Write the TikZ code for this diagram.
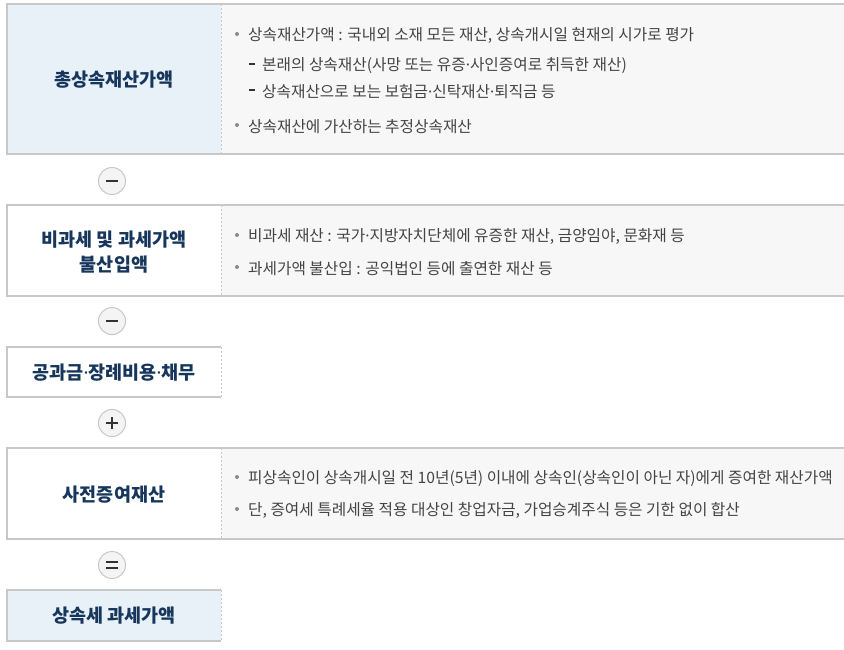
\documentclass[tikz,border=0pt]{standalone}
\usepackage{fontspec}
\setmainfont{Noto Sans CJK KR}
\newfontfamily\latf{Noto Sans}
\newcommand{\md}{{\latf ·}}
\definecolor{bluefill}{HTML}{E8F0F8}
\definecolor{grayfill}{HTML}{F7F7F7}
\definecolor{bordc}{HTML}{C8C8C8}
\definecolor{titlec}{HTML}{17365C}
\definecolor{bodyc}{HTML}{444444}
\definecolor{bulc}{HTML}{8A8A8A}
\definecolor{opfill}{HTML}{F4F4F4}
\definecolor{symc}{HTML}{333333}
\tikzset{
  bord/.style={draw=bordc, line width=1.2pt},
  divd/.style={draw=bordc, line width=0.8pt, dash pattern=on 2pt off 2pt},
  title/.style={inner sep=0pt, yshift=-1pt, text=titlec, font=\fontsize{18.5}{25}\selectfont\bfseries, align=center},
  body/.style={inner sep=0pt, anchor=west, yshift=-1.5pt, text=bodyc, font=\fontsize{15.7}{18}\selectfont},
  opc/.style={circle, draw=bordc, fill=opfill, line width=1pt, minimum size=27pt, inner sep=0pt},
  sym/.style={draw=symc, line width=2.2pt},
  dashmark/.style={draw=symc, line width=1.6pt}
}
\newcommand{\bul}[1]{\fill[bulc] (237,#1) circle (2pt);}
\begin{document}
\begin{tikzpicture}[x=1pt,y=-1pt]
\useasboundingbox (0,0) rectangle (844,649);
% block 1
\fill[bluefill] (7,4) rectangle (221,154);
\fill[grayfill] (221,4) rectangle (844,154);
\draw[bord] (844,4) -- (7,4) -- (7,154) -- (844,154);
\draw[divd] (221,4) -- (221,154);
\node[title] (t1) at (114,79) {총상속재산가액};
\bul{34}
\node[body] (a1) at (248,34) {상속재산가액 : 국내외 소재 모든 재산, 상속개시일 현재의 시가로 평가};
\draw[dashmark] (249,64) -- (255,64);
\node[body] (a2) at (262,64) {본래의 상속재산(사망 또는 유증\md 사인증여로 취득한 재산)};
\draw[dashmark] (249,90) -- (255,90);
\node[body] (a3) at (262,90) {상속재산으로 보는 보험금\md 신탁재산\md 퇴직금 등};
\bul{125}
\node[body] (a4) at (248,125) {상속재산에 가산하는 추정상속재산};
% op 1
\node[opc] (o1) at (112,181) {};
\draw[sym] ([xshift=-6pt]o1.center) -- ([xshift=6pt]o1.center);
% block 2
\fill[white] (7,205) rectangle (221,296);
\fill[grayfill] (221,205) rectangle (844,296);
\draw[bord] (844,205) -- (7,205) -- (7,296) -- (844,296);
\draw[divd] (221,205) -- (221,296);
\node[title] (t2) at (114,251) {비과세 및 과세가액\\불산입액};
\bul{235}
\node[body] (b1) at (248,235) {비과세 재산 : 국가\md 지방자치단체에 유증한 재산, 금양임야, 문화재 등};
\bul{267}
\node[body] (b2) at (248,267) {과세가액 불산입 : 공익법인 등에 출연한 재산 등};
% op 2
\node[opc] (o2) at (112,321) {};
\draw[sym] ([xshift=-6pt]o2.center) -- ([xshift=6pt]o2.center);
% block 3
\draw[bord] (221,347) -- (7,347) -- (7,397) -- (221,397);
\draw[divd] (221,347) -- (221,397);
\node[title] (t3) at (114,372) {공과금\md 장례비용\md 채무};
% op 3
\node[opc] (o3) at (112,423) {};
\draw[sym] ([xshift=-6pt]o3.center) -- ([xshift=6pt]o3.center);
\draw[sym] ([yshift=-6pt]o3.center) -- ([yshift=6pt]o3.center);
% block 4
\fill[grayfill] (221,448) rectangle (844,539);
\draw[bord] (844,448) -- (7,448) -- (7,539) -- (844,539);
\draw[divd] (221,448) -- (221,539);
\node[title] (t4) at (114,494) {사전증여재산};
\bul{477}
\node[body] (c1) at (248,477) {피상속인이 상속개시일 전 10년(5년) 이내에 상속인(상속인이 아닌 자)에게 증여한 재산가액};
\bul{509}
\node[body] (c2) at (248,509) {단, 증여세 특례세율 적용 대상인 창업자금, 가업승계주식 등은 기한 없이 합산};
% op 4
\node[opc] (o4) at (112,565) {};
\draw[sym] ([xshift=-6pt,yshift=3pt]o4.center) -- ([xshift=6pt,yshift=3pt]o4.center);
\draw[sym] ([xshift=-6pt,yshift=-3pt]o4.center) -- ([xshift=6pt,yshift=-3pt]o4.center);
% block 5
\fill[bluefill] (7,590) rectangle (221,641);
\draw[bord] (221,590) -- (7,590) -- (7,641) -- (221,641);
\draw[divd] (221,590) -- (221,641);
\node[title] (t5) at (114,615) {상속세 과세가액};
\end{tikzpicture}
\end{document}
